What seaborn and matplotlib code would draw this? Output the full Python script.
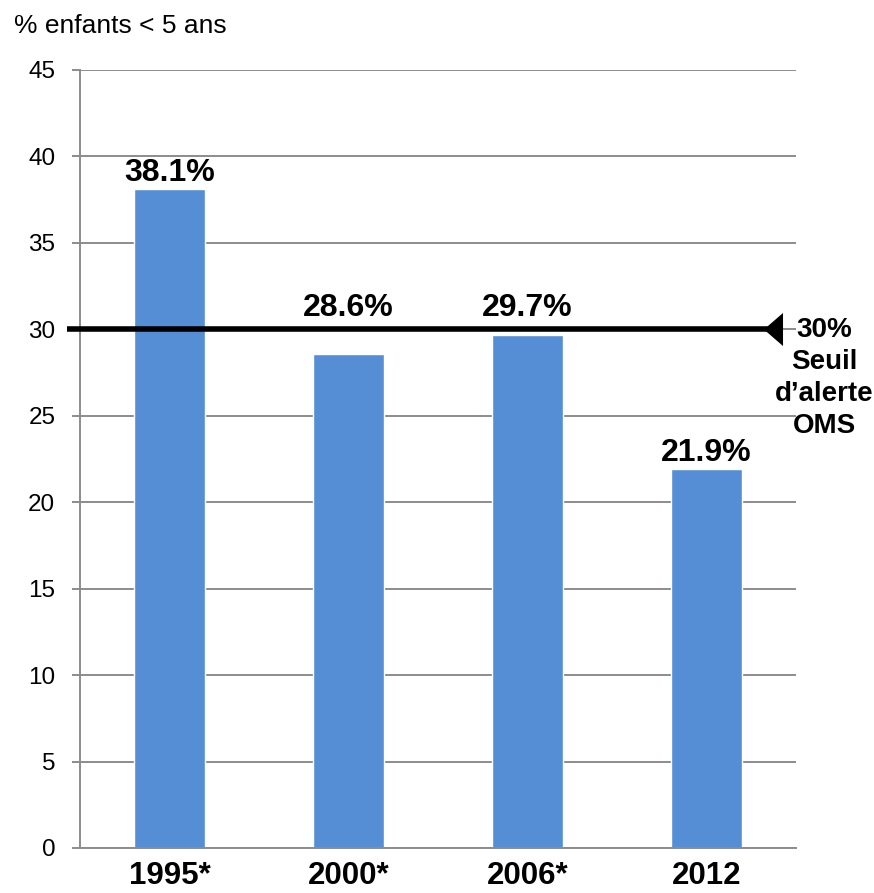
import matplotlib
matplotlib.use("Agg")
import matplotlib.pyplot as plt
import seaborn as sns
import pandas as pd

# Stunting prevalence among children under five
years = ["1995*", "2000*", "2006*", "2012"]
stunting = [38.1, 28.6, 29.7, 21.9]
value_labels = ["38.1%", "28.6%", "29.7%", "21.9%"]
threshold = 30
threshold_label = "30%\nSeuil\nd\u2019alerte\nOMS"
y_ticks = list(range(0, 50, 5))
y_title = "% enfants < 5 ans"

sns.set_style("white")
plt.rcParams["font.family"] = ["Liberation Sans", "DejaVu Sans"]
plt.rcParams["text.color"] = "black"
plt.rcParams["xtick.color"] = "black"
plt.rcParams["ytick.color"] = "black"

W, H = 874, 893
fig = plt.figure(figsize=(W / 100, H / 100), dpi=100)
ax = fig.add_axes([80 / W, 1 - 848 / H, 716 / W, 778 / H])

grey = "#8c8c8c"
df = pd.DataFrame({"year": years, "value": stunting})
sns.barplot(data=df, x="year", y="value", color="#558ED5", saturation=1,
            width=0.4, ax=ax, zorder=2)

ax.set_ylim(0, 45)
ax.set_xlim(-0.5, len(years) - 0.5)
ax.set_yticks(y_ticks)
ax.set_xlabel("")
ax.set_ylabel("")
ax.set_axisbelow(True)
ax.yaxis.grid(True, color=grey, lw=1.4)
ax.xaxis.grid(False)

for side in ("top", "right"):
    ax.spines[side].set_visible(False)
for side in ("left", "bottom"):
    ax.spines[side].set_color(grey)
    ax.spines[side].set_linewidth(1.4)

ax.tick_params(axis="y", length=5.8, width=1.4, color=grey, pad=12,
               labelsize=17.5, labelcolor="black", left=True)
ax.tick_params(axis="x", length=0, pad=9, labelsize=22.5, labelcolor="black")
for lab in ax.get_xticklabels():
    lab.set_fontweight("bold")

# Value labels above each bar; those close to the threshold sit above its line
for i, (v, lab) in enumerate(zip(stunting, value_labels)):
    anchor = threshold + 0.3 if abs(v - threshold) < 2 else v
    ax.annotate(lab, (i, anchor), xytext=(0, 5.8), textcoords="offset points",
                ha="center", va="baseline", fontsize=23, fontweight="bold")

# WHO alert threshold line ending in a left-pointing arrowhead
x_start, x_end = -0.573, 3.37
ax.plot([x_start, x_end], [threshold, threshold], color="black", lw=4,
        solid_capstyle="butt", clip_on=False, zorder=4)
arrow_head = [(-0.288, 0.0), (0.288, 0.5), (0.288, -0.5), (-0.288, 0.0)]
ax.plot([x_end], [threshold], marker=arrow_head, ms=23.8, color="black",
        markeredgewidth=0, clip_on=False, zorder=5)

fig.text(824 / W, 1 - 433 / H, threshold_label, ha="center", va="baseline",
         fontsize=20, fontweight="bold", linespacing=1.3)

fig.text(14 / W, 1 - 33 / H, y_title, ha="left", va="baseline", fontsize=19)

fig.savefig("out.png", dpi=100)
